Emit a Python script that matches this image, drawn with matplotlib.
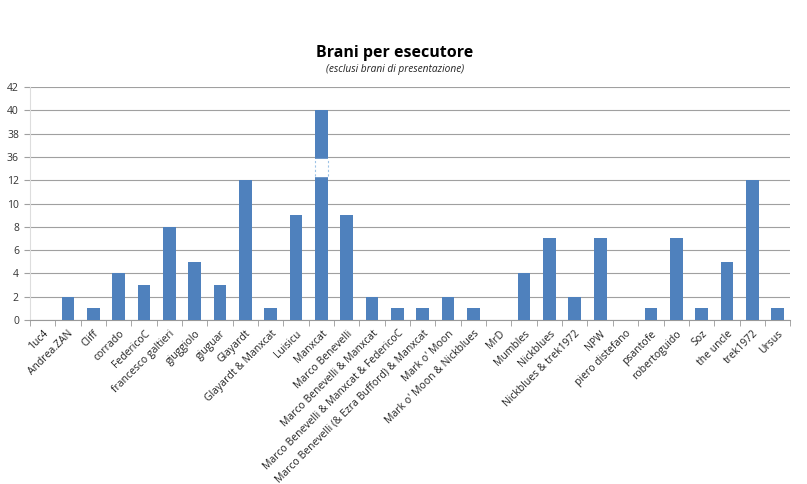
import matplotlib.pyplot as plt

# data
artists = ['1uc4', 'Andrea.ZAN', 'Cliff', 'corrado', 'FedericoC', 'francesco galtieri',
           'giuggiolo', 'giuguar', 'Glayardt', 'Glayardt & Manxcat', 'Luisicu', 'Manxcat',
           'Marco Benevelli', 'Marco Benevelli & Manxcat', 'Marco Benevelli & Manxcat & FedericoC',
           'Marco Benevelli (& Ezra Bufford) & Manxcat', "Mark o' Moon", "Mark o' Moon & Nickblues",
           'MrD', 'Mumbles', 'Nickblues', 'Nickblues & trek1972', 'NPW', 'piero distefano',
           'psantofe', 'robertoguido', 'Soz', 'the uncle', 'trek1972', 'Ursus']
counts = [0, 2, 1, 4, 3, 8, 5, 3, 12, 1, 9, 40, 9, 2, 1, 1, 2, 1, 0, 4, 7, 2, 7, 0,
          1, 7, 1, 5, 12, 1]
tick_values = [0, 2, 4, 6, 8, 10, 12, 36, 38, 40, 42]

BREAK_LO, BREAK_HI = 12, 36
BAR_COLOR = '#4F81BD'


def to_pos(v):
    # broken axis: 0..12 and 36..42, every tick equally spaced
    if v <= BREAK_LO:
        return v / 2
    return BREAK_LO / 2 + 1 + (v - BREAK_HI) / 2


plt.rcParams['font.family'] = ['Open Sans', 'DejaVu Sans']

fig = plt.figure(figsize=(8.07, 4.84), dpi=100)
ax = fig.add_axes([0.0372, 0.339, 0.942, 0.481])

x = list(range(len(artists)))
w = 0.5
cut_lo, cut_hi = to_pos(BREAK_LO) + 0.2, to_pos(BREAK_HI) - 0.07
for i, v in enumerate(counts):
    top = to_pos(v)
    if v > BREAK_LO:
        ax.bar(i, cut_lo, width=w, color=BAR_COLOR, zorder=3)
        ax.bar(i, top - cut_hi, bottom=cut_hi, width=w, color=BAR_COLOR, zorder=3)
        ax.fill_between([i - w / 2, i + w / 2], cut_lo, cut_hi, color='white', zorder=3)
        for xe in (i - w / 2, i + w / 2):
            ax.plot([xe, xe], [cut_lo, cut_hi], ls=(0, (2, 2)), color='#9DC3E6', lw=0.8, zorder=4)
    else:
        ax.bar(i, top, width=w, color=BAR_COLOR, zorder=3)

ax.set_xlim(-0.5, len(artists) - 0.5)
ax.set_ylim(0, to_pos(tick_values[-1]))
ax.set_yticks([to_pos(t) for t in tick_values])
ax.set_yticklabels([str(t) for t in tick_values], fontsize=7.5, color='#333333')
ax.yaxis.grid(True, color='#a0a0a0', lw=0.8, zorder=0)
ax.tick_params(axis='y', length=4, color='#a0a0a0', pad=4)

ax.set_xticks(x)
ax.set_xticklabels(artists, rotation=45, ha='right', rotation_mode='anchor', fontsize=7.5,
                   color='#222222')
ax.tick_params(axis='x', length=0, pad=6)
ax.set_xticks([i - 0.5 for i in range(len(artists) + 1)], minor=True)
ax.tick_params(axis='x', which='minor', length=4, color='#999999')

for s in ['top', 'right']:
    ax.spines[s].set_visible(False)
ax.spines['left'].set_color('#dddddd')
ax.spines['bottom'].set_color('#999999')

fig.text(0.489, 0.882, 'Brani per esecutore', ha='center', fontsize=11.5, fontweight='bold')
fig.text(0.489, 0.851, '(esclusi brani di presentazione)', ha='center', fontsize=7.3,
         style='italic', color='#222222')

plt.savefig('out.png', dpi=100)
plt.close()
